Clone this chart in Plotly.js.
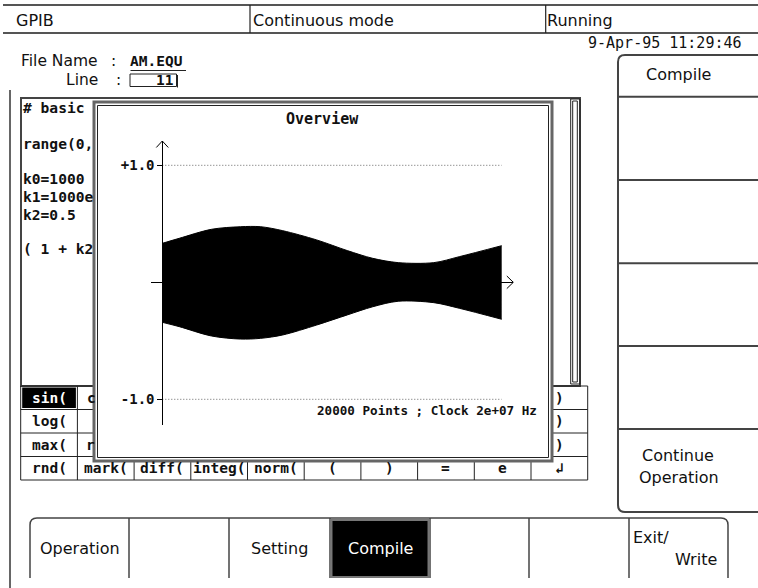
<!DOCTYPE html>
<html>
<head>
<meta charset="utf-8">
<script src="https://cdn.plot.ly/plotly-3.0.1.min.js"></script>
<style>html,body{margin:0;padding:0;background:#fff;}#chart{width:758px;height:588px;}</style>
</head>
<body>
<div id="chart"></div>
<script>
// ---- data (AM waveform envelope, 20000 points) ----
const sampleIdx = [0, 1000, 2900, 4600, 5800, 7100, 9100, 10900, 12400, 13900, 16000, 17500, 20000];
const upperEnv  = [0.333, 0.376, 0.453, 0.475, 0.475, 0.441, 0.362, 0.271, 0.205, 0.168, 0.168, 0.219, 0.313];
const lowerEnv  = [-0.342, -0.379, -0.459, -0.485, -0.479, -0.450, -0.365, -0.279, -0.209, -0.162, -0.174, -0.222, -0.316];
const gridLevels = [-1, 1];
const tickLabels = ['-1.0', '+1.0'];
const chartTitle = 'Overview';
const infoText = '20000 Points ; Clock 2e+07 Hz';

const editorLines = ['# basic', 'range(0,', 'k0=1000', 'k1=1000e', 'k2=0.5', '( 1 + k2'];
const topBar = ['GPIB', 'Continuous mode', 'Running'];
const keyRow1 = ['sin(', ')'];
const keyRow2 = ['log(', ')'];
const keyRow3 = ['max(', ')'];
const keyRow4 = ['rnd(', 'mark(', 'diff(', 'integ(', 'norm(', '(', ')', '=', 'e', '\u21B2'];
const softKeys = ['Compile', 'Continue', 'Operation'];
const tabLabels = ['Operation', 'Setting', 'Compile', 'Exit/', 'Write'];

// ---- page geometry helpers (pixels -> paper) ----
const W = 758, H = 588;
const X = p => p / W;
const Y = p => 1 - p / H;
const SANS = 'DejaVu Sans', MONO = 'DejaVu Sans Mono';
const INK = '#222';

const shapes = [];
function ln(x0, y0, x1, y1, w, c) {
  shapes.push({type: 'line', xref: 'paper', yref: 'paper', layer: 'below',
    x0: X(x0), y0: Y(y0), x1: X(x1), y1: Y(y1), line: {color: c || INK, width: w || 1}});
}
function rc(x0, y0, x1, y1, w, c, fill) {
  shapes.push({type: 'rect', xref: 'paper', yref: 'paper', layer: 'below',
    x0: X(x0), y0: Y(y1), x1: X(x1), y1: Y(y0),
    line: {color: c || INK, width: w === undefined ? 1 : w}, fillcolor: fill || 'rgba(0,0,0,0)'});
}
function pth(pts, w, c) {
  let d = '';
  pts.forEach(p => {
    d += p[0];
    for (let i = 1; i < p.length; i += 2) d += ' ' + X(p[i]).toFixed(5) + ',' + Y(p[i + 1]).toFixed(5) + ' ';
  });
  shapes.push({type: 'path', xref: 'paper', yref: 'paper', layer: 'below', path: d,
    line: {color: c || INK, width: w || 1}});
}
const ann = [];
function tx(text, x, y, o) {
  o = o || {};
  ann.push({xref: 'paper', yref: 'paper', x: X(x), y: Y(y), text: text, showarrow: false,
    xanchor: o.a || 'left', yanchor: 'middle', borderpad: 0, borderwidth: 0,
    font: {family: o.f || SANS, size: o.s || 16, color: o.c || '#111', weight: o.w || 'normal'}});
}
const M = (s, extra) => Object.assign({f: MONO, s: s, w: 'bold'}, extra || {});

// ---- top status bar ----
ln(3, 5, 758, 5, 2, '#555');
ln(3, 33, 758, 33, 2, '#555');
ln(250, 5, 250, 33, 1.2);
ln(545.7, 5, 545.7, 33, 1.2);
tx(topBar[0], 16, 20);
tx(topBar[1], 253, 20);
tx(topBar[2], 547, 20);
tx('9-Apr-95 11:29:46', 742, 43, M(15, {a: 'right', w: 'normal'}));

// ---- file name / line ----
tx('File Name', 21, 61, {s: 15.5});
tx(':', 111, 61, {s: 15.5});
tx('AM.EQU', 130, 61, M(14.5));
ln(130.5, 70.5, 186, 70.5, 1);
tx('Line', 66, 80, {s: 15.5});
tx(':', 116, 80, {s: 15.5});
rc(130, 74, 176.5, 86.5, 1);
ln(177.5, 75, 177.5, 87.5, 1);
tx('11', 174, 80.5, M(14.5, {a: 'right'}));

// ---- outer left frame ----
ln(10, 90, 10, 588, 1.5, '#333');

// ---- editor box ----
rc(21, 98, 580, 386, 2, '#444');
rc(570.7, 99, 580, 384, 1);
rc(572.7, 101, 577.3, 382, 1);
const edY = [108, 143, 178.5, 196.5, 214, 248];
editorLines.forEach((t, i) => tx(t, 22.5, edY[i], M(14.6)));

// ---- key table ----
const tL = 20.7, cw = 56.7, rowsY = [386, 409.5, 433, 456.5, 480];
rowsY.forEach(y => ln(tL, y, tL + 10 * cw, y, 1));
for (let i = 0; i <= 10; i++) ln(tL + i * cw, 386, tL + i * cw, 480, 1);
rc(tL + 1.5, 387.5, tL + cw - 1.5, 408, 0, INK, '#000');
const rc_ = (r) => (rowsY[r] + rowsY[r + 1]) / 2;
const cc_ = (c) => tL + cw * (c + 0.5);
tx(keyRow1[0], cc_(0), rc_(0), M(14.5, {a: 'center', c: '#fff'}));
tx(keyRow1[1], cc_(9), rc_(0), M(14.5, {a: 'center'}));
tx(keyRow2[0], cc_(0), rc_(1), M(14.5, {a: 'center'}));
tx(keyRow2[1], cc_(9), rc_(1), M(14.5, {a: 'center'}));
tx(keyRow3[0], cc_(0), rc_(2), M(14.5, {a: 'center'}));
tx(keyRow3[1], cc_(9), rc_(2), M(14.5, {a: 'center'}));
tx('c', 86.5, rc_(0), M(14.5));
tx('r', 86, rc_(2), M(14.5));
keyRow4.forEach((t, i) => tx(t, cc_(i), rc_(3), M(14.5, {a: 'center'})));

// ---- overview window (drawn over editor & table) ----
rc(94, 102, 552, 461, 3, '#666', '#fff');
rc(97.5, 105.5, 548.5, 457.5, 1, '#222');
tx(chartTitle, 322.5, 119.5, M(15, {a: 'center'}));
tx(infoText, 537, 410, M(12.6, {a: 'right'}));
pth([['M', 156.3, 147.5], ['L', 162.3, 141], ['L', 168.3, 147.5]], 1, '#000');
pth([['M', 506.8, 276], ['L', 513.3, 282.3], ['L', 506.8, 288.6]], 1, '#000');

// ---- right soft-key panel ----
pth([['M', 758, 55], ['L', 625, 55], ['Q', 618, 55, 618, 62], ['L', 618, 505], ['Q', 618, 512, 625, 512], ['L', 758, 512]], 2, '#444');
[96.7, 180, 263.3, 346, 429].forEach(y => ln(618, y, 758, y, 2, '#444'));
tx(softKeys[0], 678, 74, {a: 'center'});
tx(softKeys[1], 677.5, 455, {a: 'center'});
tx(softKeys[2], 679, 477.5, {a: 'center'});

// ---- bottom tab bar ----
pth([['M', 30, 578], ['L', 30, 525], ['Q', 30, 518, 37, 518], ['L', 721, 518], ['Q', 728, 518, 728, 525], ['L', 728, 578]], 1.5, '#444');
[129, 229, 330, 430, 529, 629].forEach(x => ln(x, 518, x, 578, 1.5, '#444'));
rc(331.5, 520, 428.5, 577, 2, '#777', '#000');
tx(tabLabels[0], 79.5, 548, {a: 'center'});
tx(tabLabels[1], 279, 548, {a: 'center'});
tx(tabLabels[2], 380, 548, {a: 'center', c: '#fff'});
tx(tabLabels[3], 633, 537);
tx(tabLabels[4], 717, 559, {a: 'right'});

// ---- chart traces ----
const xFirst = sampleIdx[0], xLast = sampleIdx[sampleIdx.length - 1];
const traces = [];
gridLevels.forEach(g => traces.push({
  x: [xFirst, xLast], y: [g, g], mode: 'lines', hoverinfo: 'skip',
  line: {color: '#666', width: 1, dash: '1px,2px'}
}));
traces.push({x: sampleIdx, y: lowerEnv, mode: 'lines', line: {color: '#000', width: 1, shape: 'spline', smoothing: 0.9}});
traces.push({x: sampleIdx, y: upperEnv, mode: 'lines', fill: 'tonexty', fillcolor: '#000',
  line: {color: '#000', width: 1, shape: 'spline', smoothing: 0.9}});

const xL = 151, xR = 513.3, x0px = 162.3, xEndPx = 501.7;
const yT = 141, yB = 425, y0px = 282.3, unitPx = 117;
const pxPerSample = (xEndPx - x0px) / (xLast - xFirst);

const layout = {
  width: W, height: H, margin: {l: 0, r: 0, t: 0, b: 0},
  paper_bgcolor: '#fff', plot_bgcolor: 'rgba(0,0,0,0)', showlegend: false,
  xaxis: {domain: [X(xL), X(xR)], range: [xFirst - (x0px - xL) / pxPerSample, xLast + (xR - xEndPx) / pxPerSample],
    anchor: 'free', position: Y(y0px), showline: true, linecolor: '#000', linewidth: 1,
    showgrid: false, zeroline: false, showticklabels: false, ticks: ''},
  yaxis: {domain: [Y(yB), Y(yT)], range: [-(yB - y0px) / unitPx, (y0px - yT) / unitPx],
    anchor: 'free', position: X(x0px), showline: true, linecolor: '#000', linewidth: 1,
    showgrid: false, zeroline: false, ticks: 'outside', ticklen: 5, tickcolor: '#000',
    tickvals: gridLevels, ticktext: tickLabels, tickfont: {family: MONO, size: 14, color: '#111', weight: 'bold'}},
  shapes: shapes, annotations: ann
};
Plotly.newPlot('chart', traces, layout, {displayModeBar: false, staticPlot: true});
</script>
</body>
</html>
